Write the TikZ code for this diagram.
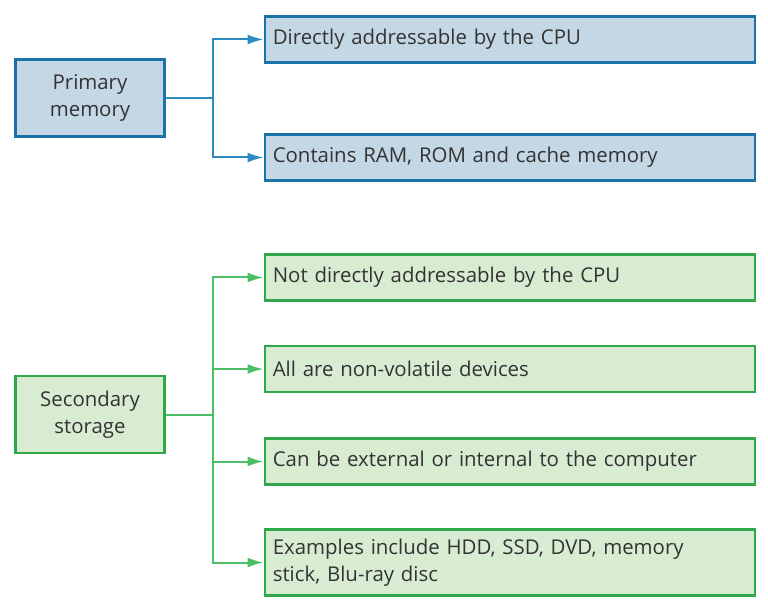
\documentclass[tikz,border=0pt]{standalone}
\usepackage{fontspec}
\setmainfont{Open Sans}
\usetikzlibrary{arrows.meta}
\definecolor{bfill}{HTML}{C4D7E4}
\definecolor{bline}{HTML}{1B72A6}
\definecolor{bconn}{HTML}{2B8BC2}
\definecolor{gfill}{HTML}{D8ECD2}
\definecolor{gline}{HTML}{2EA84A}
\definecolor{gconn}{HTML}{4DBE68}
\definecolor{txt}{HTML}{333333}
\tikzset{
  box/.style={draw, line width=2.6pt, inner sep=0pt, text=txt, font=\fontsize{20.4}{27}\selectfont},
  leftbox/.style={box, minimum width=149pt, minimum height=77pt, align=center},
  rightbox/.style={box, minimum width=490pt, anchor=west, align=left, text width=474pt, inner xsep=8pt},
  blue/.style={fill=bfill, draw=bline},
  green/.style={fill=gfill, draw=gline},
  conn/.style={line width=2pt, -{Latex[length=16pt,width=10pt]}},
}
\begin{document}
\begin{tikzpicture}[x=1pt,y=-1pt]
\useasboundingbox (0,0) rectangle (768,612);
% Primary
\node[leftbox, blue] (pm) at (90,98) {Primary\\memory};
\node[rightbox, blue, minimum height=46pt] (p1) at (263.5,39.5) {Directly addressable by the CPU};
\node[rightbox, blue, minimum height=46pt] (p2) at (263.5,157.5) {Contains RAM, ROM and cache memory};
\coordinate (pj) at (213,98);
\draw[line width=2pt, bconn] (pm.east) -- (pj);
\draw[conn, bconn] (pj) |- (p1.west);
\draw[conn, bconn] (pj) |- (p2.west);
% Secondary
\node[leftbox, green] (ss) at (90,414.5) {Secondary\\storage};
\node[rightbox, green, minimum height=46pt] (s1) at (263.5,277.5) {Not directly addressable by the CPU};
\node[rightbox, green, minimum height=46pt] (s2) at (263.5,369) {All are non-volatile devices};
\node[rightbox, green, minimum height=46pt] (s3) at (263.5,461.5) {Can be external or internal to the computer};
\node[rightbox, green, minimum height=66pt] (s4) at (263.5,562.5) {Examples include HDD, SSD, DVD, memory\\stick, Blu-ray disc};
\coordinate (sj) at (213,414.5);
\draw[line width=2pt, gconn] (ss.east) -- (sj);
\draw[conn, gconn] (sj) |- (s1.west);
\draw[conn, gconn] (sj) |- (s2.west);
\draw[conn, gconn] (sj) |- (s3.west);
\draw[conn, gconn] (sj) |- (s4.west);
\end{tikzpicture}
\end{document}
